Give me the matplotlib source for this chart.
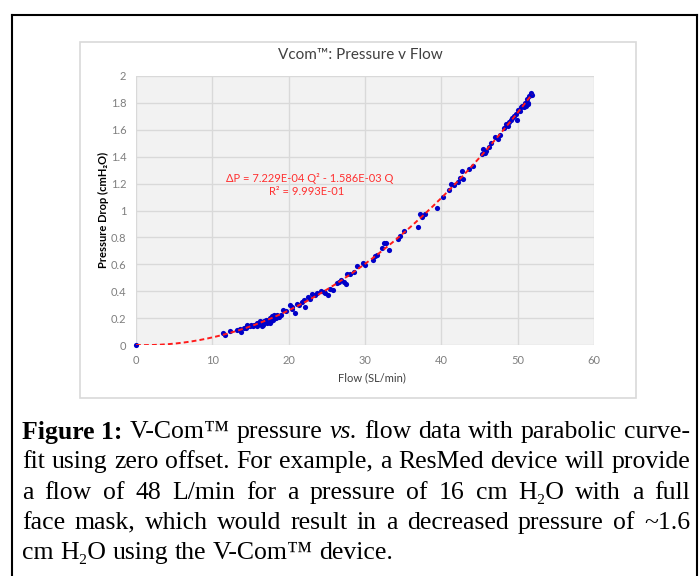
import numpy as np
import matplotlib
matplotlib.use("Agg")
import matplotlib.pyplot as plt
from matplotlib.patches import Rectangle
from matplotlib.lines import Line2D

plt.rcParams['font.family'] = ['Lato', 'DejaVu Sans']

# measured data (flow SL/min, pressure drop cmH2O)
flow = [0, 11.4, 11.7, 12.3, 13.2, 13.6, 13.8, 14.1, 14.4, 14.6, 14.9, 15.1, 15.3, 15.5,
        15.8, 15.9, 16.1, 16.2, 16.4, 16.5, 16.7, 16.8, 17.0, 17.1, 17.3, 17.5, 17.6, 17.7,
        17.8, 17.9, 18.0, 18.1, 18.3, 18.5, 18.7, 19.0, 19.3, 19.6, 20.2, 20.4, 20.5, 20.8,
        21.1, 21.4, 21.7, 22.0, 22.2, 22.5, 22.8, 23.1, 23.4, 23.7, 24.3, 24.6, 24.8, 25.2,
        25.4, 25.8, 26.3, 26.6, 26.8, 27.2, 27.5, 27.7, 28.1, 28.5, 29.0, 29.7, 30.0, 31.0,
        31.3, 31.6, 32.2, 32.5, 32.8, 33.1, 34.3, 34.6, 35.1, 36.9, 37.2, 37.5, 37.8, 39.4,
        40.2, 41.0, 41.3, 41.7, 42.2, 42.4, 42.7, 42.9, 43.6, 44.2, 45.3, 45.5, 45.7, 45.9,
        46.3, 46.5, 47.0, 47.4, 47.7, 48.2, 48.5, 48.7, 48.9, 49.1, 49.2, 49.5, 49.8, 49.9,
        50.1, 50.3, 50.4, 50.6, 50.8, 50.9, 51.1, 51.2, 51.3, 51.4, 51.5, 51.8, 51.9]
pressure = [0, 0.087, 0.074, 0.104, 0.110, 0.118, 0.100, 0.124, 0.128, 0.149, 0.140, 0.152,
            0.138, 0.147, 0.140, 0.165, 0.158, 0.175, 0.170, 0.140, 0.150, 0.178, 0.185, 0.165,
            0.186, 0.200, 0.160, 0.175, 0.215, 0.210, 0.185, 0.220, 0.200, 0.220, 0.210, 0.225,
            0.260, 0.250, 0.300, 0.280, 0.270, 0.235, 0.305, 0.295, 0.320, 0.335, 0.285, 0.360,
            0.340, 0.380, 0.370, 0.385, 0.400, 0.395, 0.390, 0.370, 0.420, 0.410, 0.460, 0.470,
            0.480, 0.470, 0.450, 0.530, 0.530, 0.545, 0.590, 0.610, 0.595, 0.630, 0.660, 0.670,
            0.720, 0.760, 0.760, 0.710, 0.785, 0.810, 0.850, 0.880, 0.975, 0.950, 0.975, 1.015,
            1.100, 1.150, 1.200, 1.190, 1.210, 1.240, 1.290, 1.235, 1.310, 1.330, 1.420, 1.460,
            1.430, 1.440, 1.470, 1.500, 1.550, 1.530, 1.560, 1.610, 1.640, 1.630, 1.660, 1.670,
            1.685, 1.700, 1.720, 1.670, 1.750, 1.740, 1.770, 1.780, 1.770, 1.800, 1.780, 1.830,
            1.790, 1.800, 1.850, 1.870, 1.860]

# trendline coefficients shown on the chart
a2 = 7.229e-4
a1 = -1.586e-3

xticks = [0, 10, 20, 30, 40, 50, 60]
yticks = [0, 0.2, 0.4, 0.6, 0.8, 1, 1.2, 1.4, 1.6, 1.8, 2]
ytick_labels = ['0', '0.2', '0.4', '0.6', '0.8', '1', '1.2', '1.4', '1.6', '1.8', '2']

caption = [
    [("Figure 1:", "bold"), ("V-Com™", ""), ("pressure", ""), ("vs.", "italic"), ("flow", ""),
     ("data", ""), ("with", ""), ("parabolic", ""), ("curve-", "")],
    [(w, "") for w in "fit using zero offset. For example, a ResMed device will provide".split()],
    [(w, "") for w in "a flow of 48 L/min for a pressure of 16 cm H₂O with a full".split()],
    [(w, "") for w in "face mask, which would result in a decreased pressure of ~1.6".split()],
    [(w, "") for w in "cm H₂O using the V-Com™ device.".split()],
]

W, H = 699, 576
fig = plt.figure(figsize=(W / 100, H / 100), dpi=100)

# outer frame
fig.add_artist(Line2D([12 / W, 12 / W], [0, 1 - 15 / H], color='black', lw=1.5))
fig.add_artist(Line2D([12 / W, 697 / W], [1 - 15 / H, 1 - 15 / H], color='black', lw=1.5))
fig.add_artist(Line2D([697 / W, 697 / W], [0, 1 - 15 / H], color='black', lw=1.5))

# chart box
fig.add_artist(Rectangle((80 / W, 1 - 398 / H), 556 / W, 356 / H, transform=fig.transFigure,
                         fill=False, edgecolor='#D9D9D9', lw=1.2))

ax = fig.add_axes([136 / W, 1 - 345 / H, 458 / W, 269 / H])
ax.set_facecolor('#F2F2F2')
ax.set_xlim(0, 60)
ax.set_ylim(0, 2)
ax.set_xticks(xticks)
ax.set_yticks(yticks)
ax.set_yticklabels(ytick_labels)
ax.grid(True, color='#D9D9D9', lw=1.0)
ax.set_axisbelow(True)
for s in ax.spines.values():
    s.set_visible(False)
ax.tick_params(length=0, labelsize=8, labelcolor='#7F7F7F', pad=7)

ax.scatter(flow, pressure, s=14, color='#0000C8', zorder=3, clip_on=False, linewidths=0)
q = np.linspace(0, max(flow), 200)
ax.plot(q, a2 * q ** 2 + a1 * q, color='#FF1A1A', lw=1.4, ls=(0, (2.5, 1.6)), zorder=4)

ax.text(22.7, 1.24, "ΔP = 7.229E-04 Q² - 1.586E-03 Q", color='#FF3030', fontsize=8,
        ha='center', va='center')
ax.text(22.3, 1.14, "R² = 9.993E-01", color='#FF3030', fontsize=8, ha='center', va='center')

fig.text(360 / W, 1 - 55 / H, "Vcom™: Pressure v Flow", fontsize=11, color='#404040',
         ha='center', va='center')
fig.text(372 / W, 1 - 378 / H, "Flow (SL/min)", fontsize=8, color='#404040',
         ha='center', va='center')
fig.text(103 / W, 1 - 210 / H, "Pressure Drop (cmH₂O)", fontsize=8, color='black',
         fontweight='bold', rotation=90, ha='center', va='center')

# caption, justified word by word
serif = ['Liberation Serif', 'DejaVu Serif']
fs = 18.5
fig.canvas.draw()
r = fig.canvas.get_renderer()
t1 = fig.text(0, 0, "a a", family=serif, fontsize=fs)
t2 = fig.text(0, 0, "aa", family=serif, fontsize=fs)
space = t1.get_window_extent(r).width - t2.get_window_extent(r).width
t1.remove()
t2.remove()
left, right = 22, 690
for i, line in enumerate(caption):
    y = 1 - (432 + i * 30.3) / H
    texts = []
    for w, st in line:
        kw = {}
        if st == 'bold':
            kw['fontweight'] = 'bold'
        if st == 'italic':
            kw['fontstyle'] = 'italic'
        texts.append(fig.text(0, y, w, family=serif, fontsize=fs, va='center', **kw))
    widths = [t.get_window_extent(r).width for t in texts]
    if i < len(caption) - 1:
        gap = max((right - left - sum(widths)) / (len(texts) - 1), 0.5 * space)
    else:
        gap = space
    x = left
    for t, wd in zip(texts, widths):
        t.set_x(x / W)
        x += wd + gap

fig.savefig("out.png", dpi=100)
